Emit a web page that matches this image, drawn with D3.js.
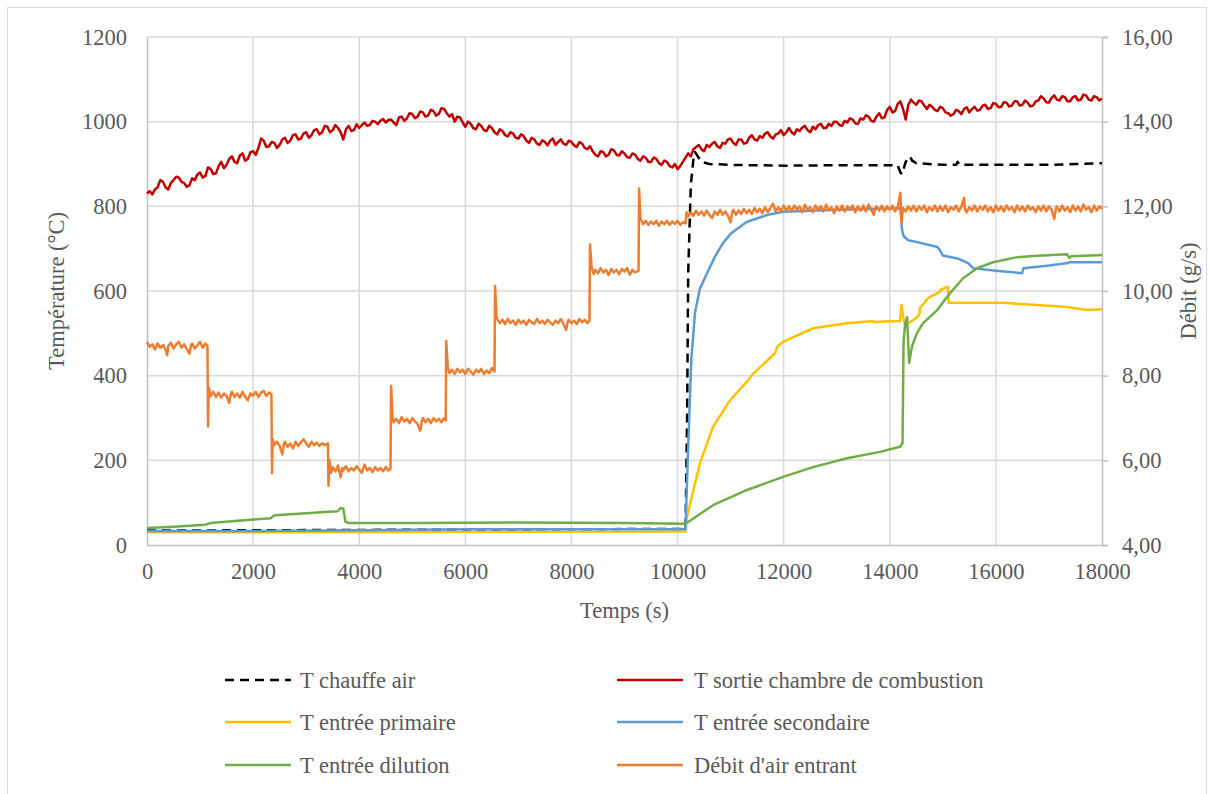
<!DOCTYPE html>
<html><head><meta charset="utf-8">
<script src="https://cdn.jsdelivr.net/npm/d3@7"></script>
<style>
html,body{margin:0;padding:0;background:#fff;}
</style></head>
<body><svg id="c" width="1210" height="794"></svg>
<script>
// ---- data ----
const xTicks = [0,2000,4000,6000,8000,10000,12000,14000,16000,18000];
const yLeftTicks = [0,200,400,600,800,1000,1200];
const yRightTicks = [4,6,8,10,12,14,16];
const seriesNames = ["T chauffe air","T sortie chambre de combustion","T entrée primaire","T entrée secondaire","T entrée dilution","Débit d'air entrant"];

// T chauffe air [s, °C]
const tChauffeAir = [[0,34],[5000,36],[10150,38],[10180,300],[10200,640],[10250,850],[10310,925],[10330,928],[10450,905],[10600,900],[11000,898],[12000,896],[13000,897],[14150,897],[14200,880],[14230,876],[14300,905],[14380,918],[14420,908],[14500,902],[15000,898],[15250,898],[15280,905],[15320,898],[16000,898],[17000,898],[17500,900],[18000,902]];

// T sortie chambre de combustion [s, °C]
const tSortie = [[0,830],[50,836],[100,828],[150,840],[200,845],[250,862],[300,858],[350,845],[400,840],[450,855],[500,862],[550,870],[600,868],[650,858],[700,855],[750,846],[800,850],[850,866],[900,862],[950,875],[1000,880],[1050,868],[1100,872],[1150,892],[1200,888],[1250,876],[1300,878],[1350,895],[1400,905],[1450,890],[1500,898],[1550,912],[1600,918],[1650,905],[1700,902],[1750,920],[1800,925],[1850,908],[1900,912],[1950,928],
[2000,930],[2050,922],[2100,938],[2150,960],[2200,955],[2250,940],[2300,942],[2350,952],[2400,950],[2450,938],[2500,945],[2550,958],[2600,962],[2650,950],[2700,955],[2750,968],[2800,970],[2850,958],[2900,960],[2950,972],[3000,975],[3050,962],[3100,968],[3150,980],[3200,982],[3250,970],[3300,975],[3350,990],[3400,988],[3450,975],[3500,980],[3550,992],[3600,985],[3650,975],[3700,958],[3750,982],[3800,990],[3850,978],[3900,980],[3950,994],
[4000,985],[4050,992],[4100,998],[4150,990],[4200,992],[4250,1002],[4300,1000],[4350,994],[4400,1002],[4450,1006],[4500,998],[4550,1004],[4600,1005],[4650,998],[4700,992],[4750,1010],[4800,1012],[4850,1002],[4900,1008],[4950,1020],[5000,1018],[5050,1008],[5100,1012],[5150,1024],[5200,1022],[5250,1012],[5300,1015],[5350,1028],[5400,1025],[5450,1014],[5500,1018],[5550,1032],[5600,1030],[5650,1020],[5700,1012],[5750,1018],[5800,1000],[5850,1012],[5900,1010],[5950,998],
[6000,988],[6050,1000],[6100,995],[6150,985],[6200,982],[6250,995],[6300,990],[6350,980],[6400,978],[6450,990],[6500,985],[6550,975],[6600,970],[6650,982],[6700,978],[6750,968],[6800,965],[6850,975],[6900,972],[6950,962],[7000,960],[7050,970],[7100,966],[7150,955],[7200,950],[7250,962],[7300,958],[7350,948],[7400,945],[7450,956],[7500,952],[7550,944],[7600,955],[7650,960],[7700,945],[7750,952],[7800,958],[7850,948],[7900,945],[7950,955],
[8000,952],[8050,944],[8100,940],[8150,952],[8200,948],[8250,938],[8300,935],[8350,942],[8400,930],[8450,922],[8500,918],[8550,930],[8600,928],[8650,918],[8700,922],[8750,935],[8800,932],[8850,922],[8900,920],[8950,930],[9000,925],[9050,916],[9100,915],[9150,925],[9200,922],[9250,912],[9300,908],[9350,918],[9400,915],[9450,905],[9500,905],[9550,915],[9600,912],[9650,902],[9700,898],[9750,908],[9800,905],[9850,895],[9900,892],[9950,900],
[10000,888],[10050,895],[10100,905],[10150,915],[10200,925],[10250,918],[10300,935],[10350,940],[10400,945],[10450,935],[10500,930],[10550,945],[10600,940],[10650,948],[10700,952],[10750,942],[10800,938],[10850,950],[10900,948],[10950,958],[11000,960],[11050,950],[11100,945],[11150,958],[11200,958],[11250,948],[11300,950],[11350,962],[11400,968],[11450,958],[11500,955],[11550,966],[11600,962],[11650,972],[11700,975],[11750,965],[11800,960],[11850,970],[11900,972],[11950,980],
[12000,968],[12050,975],[12100,985],[12150,975],[12200,970],[12250,982],[12300,978],[12350,986],[12400,990],[12450,980],[12500,975],[12550,988],[12600,982],[12650,992],[12700,995],[12750,985],[12800,985],[12850,995],[12900,990],[12950,1000],[13000,1000],[13050,992],[13100,990],[13150,1002],[13200,998],[13250,1008],[13300,1005],[13350,996],[13400,995],[13450,1008],[13500,1005],[13550,1015],[13600,1012],[13650,1002],[13700,1000],[13750,1012],[13800,1020],[13850,1008],[13900,1010],[13950,1028],
[14000,1035],[14050,1022],[14100,1025],[14150,1042],[14200,1048],[14250,1030],[14300,1005],[14350,1040],[14400,1052],[14450,1045],[14500,1040],[14550,1050],[14600,1048],[14650,1038],[14700,1030],[14750,1040],[14800,1035],[14850,1028],[14900,1025],[14950,1035],[15000,1032],[15050,1022],[15100,1020],[15150,1014],[15200,1018],[15250,1028],[15300,1025],[15350,1018],[15400,1030],[15450,1034],[15500,1022],[15550,1030],[15600,1035],[15650,1026],[15700,1028],[15750,1038],[15800,1040],[15850,1030],[15900,1032],[15950,1044],
[16000,1042],[16050,1034],[16100,1035],[16150,1046],[16200,1045],[16250,1036],[16300,1038],[16350,1048],[16400,1048],[16450,1038],[16500,1040],[16550,1050],[16600,1045],[16650,1036],[16700,1038],[16750,1048],[16800,1050],[16850,1060],[16900,1055],[16950,1046],[17000,1045],[17050,1056],[17100,1062],[17150,1052],[17200,1050],[17250,1060],[17300,1058],[17350,1048],[17400,1048],[17450,1058],[17500,1060],[17550,1050],[17600,1052],[17650,1064],[17700,1062],[17750,1052],[17800,1050],[17850,1060],[17900,1058],[17950,1050],[18000,1055]];

// T entrée primaire [s, °C]
const tPrimaire = [[0,30],[5000,31],[10150,32],[10179,66],[10300,130],[10424,194],[10669,279],[10990,342],[11367,394],[11404,402],[11838,453],[11876,468],[11989,480],[12554,512],[13195,524],[13685,529],[13700,526],[13900,528],[14194,529],[14220,567],[14250,540],[14290,520],[14400,528],[14514,538],[14560,545],[14571,560],[14722,583],[14760,586],[14948,598],[14960,603],[15099,610],[15110,572],[15514,572],[16136,572],[16777,567],[17342,562],[17719,555],[18000,557]];

// T entrée secondaire [s, °C]
const tSecondaire = [[0,33],[2000,33],[4000,35],[6000,37],[8000,37],[10150,37],[10170,120],[10200,230],[10260,440],[10330,550],[10420,605],[10550,640],[10700,680],[10850,712],[11000,735],[11300,763],[11700,780],[12000,787],[13000,792],[14000,795],[14200,795],[14230,745],[14260,730],[14345,720],[14500,716],[14700,710],[14900,704],[14950,695],[15000,684],[15300,676],[15476,666],[15570,654],[16000,648],[16494,642],[16520,654],[17000,660],[17361,666],[17380,668],[18000,668]];

// T entrée dilution [s, °C]
const tDilution = [[0,40],[500,43],[1100,48],[1200,52],[2000,60],[2330,63],[2400,70],[3000,75],[3500,79],[3600,80],[3640,87],[3700,86],[3740,55],[3800,52],[5000,52],[7000,53],[9000,52],[10150,50],[10669,94],[11310,130],[11989,161],[12554,184],[13195,205],[13817,220],[14194,232],[14240,240],[14260,480],[14288,520],[14326,538],[14364,430],[14420,470],[14514,501],[14628,524],[14892,555],[15137,595],[15382,630],[15646,654],[15947,668],[16400,680],[16777,683],[17342,687],[17380,678],[17420,682],[18000,685]];

// Débit d'air entrant [s, g/s]
const debitAir = [[0,8.80],[50,8.68],[100,8.74],[150,8.62],[200,8.76],[250,8.66],[300,8.72],[350,8.62],[380,8.48],[400,8.70],[450,8.78],[500,8.64],[550,8.74],[600,8.80],[650,8.66],[700,8.74],[750,8.63],[800,8.52],[830,8.72],[850,8.76],[900,8.64],[950,8.72],[1000,8.80],[1050,8.66],[1100,8.76],[1140,8.70],
[1150,6.80],[1165,7.72],[1200,7.52],[1250,7.62],[1300,7.50],[1350,7.60],[1400,7.48],[1450,7.58],[1500,7.52],[1550,7.36],[1580,7.56],[1600,7.62],[1650,7.50],[1700,7.58],[1750,7.48],[1800,7.62],[1850,7.50],[1900,7.42],[1950,7.58],[2000,7.52],[2050,7.62],[2100,7.50],[2150,7.60],[2200,7.64],[2250,7.52],[2300,7.60],[2345,7.56],
[2356,5.70],[2370,6.50],[2400,6.36],[2450,6.44],[2500,6.34],[2550,6.14],[2580,6.38],[2600,6.44],[2650,6.32],[2700,6.40],[2750,6.28],[2800,6.44],[2850,6.34],[2900,6.42],[2950,6.50],[3000,6.40],[3050,6.32],[3100,6.44],[3150,6.36],[3200,6.42],[3250,6.34],[3300,6.40],[3350,6.36],[3410,6.40],
[3420,5.40],[3440,6.00],[3470,5.70],[3500,5.84],[3550,5.74],[3600,5.88],[3650,5.60],[3680,5.82],[3700,5.76],[3750,5.86],[3800,5.74],[3850,5.82],[3900,5.76],[3950,5.86],[4000,5.78],[4050,5.70],[4100,5.90],[4150,5.76],[4200,5.82],[4250,5.72],[4300,5.84],[4350,5.76],[4400,5.82],[4450,5.74],[4500,5.84],[4550,5.76],[4590,5.80],
[4600,7.76],[4630,7.00],[4650,6.90],[4700,6.98],[4750,6.88],[4800,7.02],[4850,6.92],[4900,6.98],[4950,6.88],[5000,7.00],[5050,6.92],[5100,6.86],[5150,6.70],[5180,6.92],[5200,7.00],[5250,6.90],[5300,6.98],[5350,6.88],[5400,7.00],[5450,6.92],[5500,6.98],[5550,6.90],[5600,7.00],[5630,6.94],
[5640,8.82],[5670,8.20],[5700,8.06],[5750,8.14],[5800,8.04],[5850,8.16],[5900,8.08],[5950,8.14],[6000,8.04],[6050,8.16],[6100,8.10],[6150,8.02],[6200,8.14],[6250,8.08],[6300,8.16],[6350,8.04],[6400,8.12],[6450,8.06],[6500,8.18],[6550,8.10],
[6560,10.12],[6590,9.36],[6650,9.24],[6700,9.32],[6750,9.22],[6800,9.34],[6850,9.24],[6900,9.30],[6950,9.20],[7000,9.32],[7050,9.24],[7100,9.30],[7150,9.20],[7200,9.32],[7250,9.26],[7300,9.22],[7350,9.34],[7400,9.24],[7450,9.30],[7500,9.22],[7550,9.32],[7600,9.26],[7650,9.20],[7700,9.30],[7750,9.24],[7800,9.34],[7850,9.22],[7900,9.08],[7930,9.28],[7950,9.32],[8000,9.24],[8050,9.30],[8100,9.22],[8150,9.34],[8200,9.26],[8250,9.32],[8300,9.24],[8340,9.30],
[8350,11.10],[8380,10.56],[8420,10.40],[8450,10.50],[8500,10.42],[8550,10.54],[8600,10.44],[8650,10.50],[8700,10.38],[8750,10.52],[8800,10.44],[8850,10.50],[8900,10.40],[8950,10.52],[9000,10.46],[9050,10.54],[9100,10.38],[9150,10.50],[9200,10.44],[9265,10.48],
[9275,12.42],[9300,11.72],[9350,11.58],[9400,11.66],[9450,11.56],[9500,11.64],[9550,11.58],[9600,11.66],[9650,11.54],[9700,11.64],[9750,11.58],[9800,11.66],[9850,11.56],[9900,11.64],[9950,11.58],[10000,11.66],[10050,11.56],[10100,11.62],[10150,11.60],
[10170,11.86],[10200,11.76],[10250,11.86],[10300,11.78],[10350,11.90],[10400,11.80],[10450,11.88],[10500,11.78],[10550,11.90],[10600,11.80],[10650,11.72],[10700,11.88],[10750,11.80],[10800,11.92],[10850,11.80],[10900,11.88],[10950,11.78],[11000,11.62],[11030,11.86],[11050,11.92],[11100,11.80],[11150,11.90],[11200,11.82],[11250,11.94],[11300,11.84],[11350,11.92],[11400,11.82],[11450,11.96],[11500,11.86],[11550,11.94],[11600,11.84],[11650,11.98],[11700,11.86],[11750,11.96],[11800,12.06],[11850,11.88],[11900,11.98],[11950,11.88],
[12000,12.02],[12050,11.90],[12100,12.00],[12150,11.88],[12200,12.02],[12250,11.92],[12300,12.00],[12350,11.86],[12400,12.04],[12450,11.92],[12500,11.98],[12550,11.86],[12600,12.02],[12650,11.92],[12700,12.00],[12750,11.88],[12800,12.04],[12850,11.90],[12900,11.98],[12950,11.84],[13000,12.00],[13050,11.90],[13100,12.02],[13150,11.88],[13200,12.00],[13250,11.92],[13300,12.02],[13350,11.86],[13400,12.00],[13450,11.90],[13500,12.02],[13550,11.88],[13600,12.04],[13650,11.92],[13700,11.80],[13730,11.96],[13750,12.00],[13800,11.90],[13850,12.02],[13900,11.88],[13950,12.00],
[14000,11.92],[14050,12.02],[14100,11.88],[14150,11.98],[14200,12.32],[14220,11.62],[14250,11.96],[14300,11.88],[14350,12.00],[14400,11.90],[14450,12.02],[14500,11.88],[14550,12.00],[14600,11.92],[14650,12.02],[14700,11.86],[14750,11.98],[14800,11.90],[14850,12.02],[14900,11.88],[14950,12.00],[15000,11.90],[15050,12.02],[15100,11.86],[15150,11.98],[15200,11.92],[15250,12.02],[15300,11.88],[15350,12.00],[15400,12.20],[15420,11.92],[15450,11.86],[15500,11.98],[15550,11.90],[15600,12.02],[15650,11.88],[15700,12.00],[15750,11.92],[15800,12.02],[15850,11.88],[15900,11.98],[15950,11.86],
[16000,12.02],[16050,11.90],[16100,12.00],[16150,11.88],[16200,12.02],[16250,11.92],[16300,11.98],[16350,11.86],[16400,12.02],[16450,11.90],[16500,12.00],[16550,11.88],[16600,12.02],[16650,11.92],[16700,11.98],[16750,11.86],[16800,12.00],[16850,11.90],[16900,12.02],[16950,11.88],[17000,12.00],[17050,11.92],[17100,11.70],[17130,11.94],[17150,12.00],[17200,11.88],[17250,12.02],[17300,11.90],[17350,11.98],[17400,11.86],[17450,12.02],[17500,11.90],[17550,12.00],[17600,11.88],[17650,12.04],[17700,11.92],[17750,11.98],[17800,11.86],[17850,12.02],[17900,11.90],[17950,12.00],[18000,11.94]];

const colors = ["#000000","#C00000","#FFC000","#5B9BD5","#70AD47","#ED7D31"];

// ---- drawing ----
const FONT = '"Liberation Serif","Times New Roman",Tinos,"DejaVu Serif","Noto Serif",serif';
const svg = d3.select("#c");
const L = 147, R = 1102, T = 37, B = 545;
const x = d3.scaleLinear().domain([0,18000]).range([L,R]);
const yL = d3.scaleLinear().domain([0,1200]).range([B,T]);
const yR = d3.scaleLinear().domain([4,16]).range([B,T]);

svg.append("rect").attr("x",7.5).attr("y",7.5).attr("width",1199).attr("height",800)
  .attr("fill","#fff").attr("stroke","#D9D9D9").attr("stroke-width",1);

const grid = svg.append("g");
grid.selectAll("line.h").data(yLeftTicks.slice(1)).join("line")
  .attr("x1",L).attr("x2",R).attr("y1",d=>yL(d)).attr("y2",d=>yL(d))
  .attr("stroke","#D9D9D9").attr("stroke-width",1.5);
grid.selectAll("line.v").data(xTicks.slice(1,-1)).join("line")
  .attr("y1",T).attr("y2",B).attr("x1",d=>x(d)).attr("x2",d=>x(d))
  .attr("stroke","#D9D9D9").attr("stroke-width",1.5);

const fs = 22.5;
const gx = svg.append("g").attr("transform",`translate(0,${B})`)
  .call(d3.axisBottom(x).tickValues(xTicks).tickFormat(d3.format("d")).tickSize(0).tickPadding(27));
const gl = svg.append("g").attr("transform",`translate(${L},0)`)
  .call(d3.axisLeft(yL).tickValues(yLeftTicks).tickFormat(d3.format("d")).tickSize(0).tickPadding(20));
const gr = svg.append("g").attr("transform",`translate(${R},0)`)
  .call(d3.axisRight(yR).tickValues(yRightTicks).tickFormat(d=>d3.format(".2f")(d).replace(".",",")).tickSize(6).tickPadding(14));
[gx,gl,gr].forEach(g=>{
  g.attr("font-family",null).attr("font-size",null);
  g.selectAll("text").style("font-size",fs+"px").style("fill","#595959").style("font-family",FONT);
  g.select(".domain").attr("stroke","#BFBFBF").attr("stroke-width",1.5);
  g.selectAll(".tick line").attr("stroke","#BFBFBF").attr("stroke-width",1.5);
});
gx.selectAll("text").attr("dy","0.32em");

function txt(sel){ return sel.style("font-family",FONT).style("font-size",fs+"px").style("fill","#595959"); }
txt(svg.append("text").attr("x",(L+R)/2).attr("y",618).attr("text-anchor","middle")).text("Temps (s)");
txt(svg.append("text").attr("transform",`translate(64,${(T+B)/2}) rotate(-90)`).attr("text-anchor","middle")).text("Température (°C)");
txt(svg.append("text").attr("transform",`translate(1196,${(T+B)/2}) rotate(-90)`).attr("text-anchor","middle")).text("Débit (g/s)");

const lineL = d3.line().x(d=>x(d[0])).y(d=>yL(d[1]));
const lineR = d3.line().x(d=>x(d[0])).y(d=>yR(d[1]));
const plot = svg.append("g");
const sets = [
  {d:tChauffeAir, f:lineL, c:colors[0], dash:"9,6"},
  {d:tSortie, f:lineL, c:colors[1]},
  {d:tPrimaire, f:lineL, c:colors[2]},
  {d:tSecondaire, f:lineL, c:colors[3]},
  {d:tDilution, f:lineL, c:colors[4]},
  {d:debitAir, f:lineR, c:colors[5]}
];
sets.forEach(s=>{
  plot.append("path").attr("d",s.f(s.d)).attr("fill","none").attr("stroke",s.c)
    .attr("stroke-width",2.5).attr("stroke-linejoin","round")
    .attr("stroke-dasharray",s.dash||null);
});

const legX = [225,617], legTextX = [300,694], legY = [680,722,765];
const leg = svg.append("g");
seriesNames.forEach((n,i)=>{
  const col = i%2, row = Math.floor(i/2);
  leg.append("line").attr("x1",legX[col]).attr("x2",legX[col]+66)
    .attr("y1",legY[row]).attr("y2",legY[row]).attr("stroke",colors[i]).attr("stroke-width",2.5)
    .attr("stroke-dasharray",i===0?"9,6":null);
  txt(leg.append("text").attr("x",legTextX[col]).attr("y",legY[row]).attr("dy","0.35em")).text(n);
});
</script></body></html>
